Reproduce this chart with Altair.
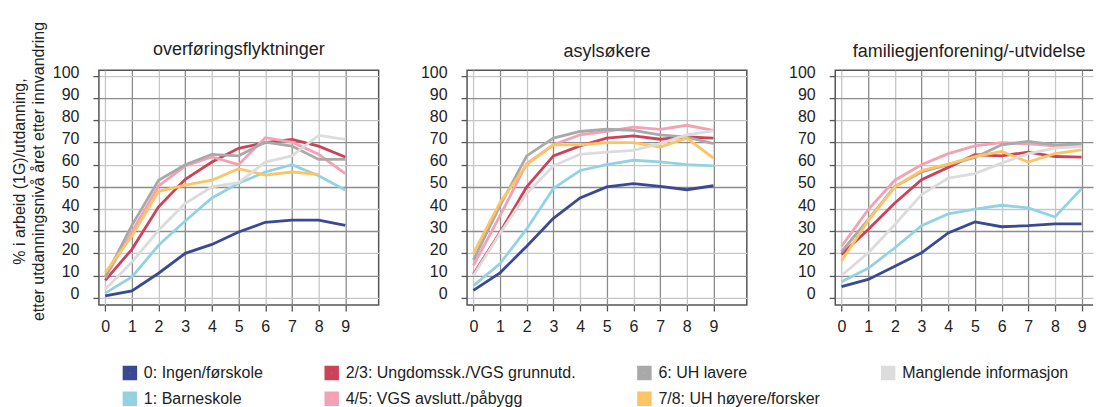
import altair as alt
import pandas as pd

FONT = "Liberation Sans"
TEXT = "#222222"

years = list(range(10))
categories = [
    "0: Ingen/førskole",
    "1: Barneskole",
    "2/3: Ungdomssk./VGS grunnutd.",
    "4/5: VGS avslutt./påbygg",
    "6: UH lavere",
    "7/8: UH høyere/forsker",
    "Manglende informasjon",
]
colors = ["#3A4A92", "#93D3E1", "#CB4359", "#F3A1B4", "#A9A9A9", "#FCC463", "#DCDCDC"]
# legend is read row by row: 0, 2/3, 6, Manglende / 1, 4/5, 7/8
legend_order = [categories[i] for i in (0, 2, 4, 6, 1, 3, 5)]
legend_colors = [colors[i] for i in (0, 2, 4, 6, 1, 3, 5)]

panels = ["overføringsflyktninger", "asylsøkere", "familiegjenforening/-utvidelse"]

# overføringsflyktninger
ovf_0 = [0.8, 3, 11, 20, 24, 29.6, 34, 35, 35, 32.6]
ovf_1 = [2, 9.3, 23.6, 34.6, 45, 51.6, 56.7, 60, 55, 48.6]
ovf_23 = [7.8, 21.8, 41, 53.4, 61.2, 67.4, 70, 71.4, 68.4, 63.5]
ovf_45 = [9, 29.6, 50.4, 59.4, 63.5, 60, 72.2, 70.2, 64.7, 56]
ovf_6 = [9.3, 32.6, 53, 60, 64.7, 64, 70.2, 68.4, 62.4, 62.4]
ovf_78 = [11.3, 27.8, 48, 50.8, 53, 58.2, 55.3, 56.7, 55.6, None]
ovf_m = [3.8, 16, 30.4, 42.5, 50, 51.9, 61.2, 64, 73.2, 71.4]

# asylsøkere
asy_0 = [3.3, 11.2, 23.2, 35.8, 45, 50, 51.5, 50.2, 48.7, 50.5]
asy_1 = [5.3, 15.4, 31, 49.3, 57.4, 60, 62, 61.3, 60, 59.5]
asy_23 = [10.5, 29.5, 50, 64, 68.5, 72, 73, 71.5, 72.5, 72]
asy_45 = [14.5, 37, 60.5, 69, 73.5, 75, 77, 76, 77.8, 75.5]
asy_6 = [17, 41.5, 64, 72, 75, 76, 75.5, 73.5, 72.5, 69.5]
asy_78 = [20, 43, 60, 69, 69, 70, 70, 68, 72, 63]
asy_m = [10, 29, 47, 59.5, 64.7, 65.7, 66.5, 69.5, 73.5, 75.3]

# familiegjenforening/-utvidelse
fam_0 = [5, 8.2, 14.2, 20.2, 29.2, 34.2, 32, 32.5, 33.3, 33.3]
fam_1 = [7.2, 13.2, 22.5, 32.5, 37.8, 40, 41.7, 40.5, 36.4, 49.2]
fam_23 = [19.5, 30.7, 42.7, 53.2, 58.8, 64.5, 64, 65.7, 63.7, 63.4]
fam_45 = [23.2, 39.7, 53, 60, 65, 68.5, 70, 69.4, 68.5, 68.2]
fam_6 = [20.7, 35.2, 50.2, 56.7, 60, 63.3, 69, 70.5, 69, 69.4]
fam_78 = [16.5, 34.8, 50, 57.4, 60.3, 63.7, 66, 61.2, 65, 66.7]
fam_m = [10, 20.2, 33, 46.5, 54, 56, 60.7, 65, 67.5, 68.2]

series = {
    panels[0]: [ovf_0, ovf_1, ovf_23, ovf_45, ovf_6, ovf_78, ovf_m],
    panels[1]: [asy_0, asy_1, asy_23, asy_45, asy_6, asy_78, asy_m],
    panels[2]: [fam_0, fam_1, fam_23, fam_45, fam_6, fam_78, fam_m],
}

rows = []
for p, lists in series.items():
    for cat, vals in zip(categories, lists):
        for yr, v in zip(years, vals):
            if v is not None:
                rows.append({"panel": p, "category": cat, "year": yr, "value": v})
df = pd.DataFrame(rows)

y_title = ["% i arbeid (1G)/utdanning,", "etter utdanningsnivå året etter innvandring"]

GRID_DARK = "#8C8C8C"
GRID_LIGHT = "#C6C6C6"
FRAME = "#555555"
H = 235

color_enc = alt.Color(
    "category:N",
    scale=alt.Scale(domain=legend_order, range=legend_colors),
    legend=alt.Legend(
        title=None,
        orient="none",
        direction="horizontal",
        legendX=23,
        legendY=295,
        columns=4,
        symbolType="square",
        symbolSize=56,
        symbolStrokeWidth=7,
        labelFontSize=16,
        labelFont=FONT,
        labelColor=TEXT,
        labelLimit=400,
        columnPadding=50,
        rowPadding=-11,
        labelOffset=6,
    ),
)


def make_panel(name, first, clipped):
    d = df[df.panel == name]
    width = 258 if clipped else 280
    xdom = [-0.236, -0.236 + width / 26.7]
    x_axis = alt.Axis(
        values=years,
        grid=True,
        gridColor={"condition": {"test": "datum.value % 2 === 0", "value": GRID_LIGHT}, "value": GRID_DARK},
        gridWidth=1.3,
        tickSize=6,
        tickColor=FRAME,
        tickWidth=1.3,
        domain=False,
        labelFontSize=16,
        labelFont=FONT,
        labelColor=TEXT,
        labelPadding=8,
        labelAngle=0,
        title=None,
    )
    y_axis = alt.Axis(
        values=list(range(0, 101, 10)),
        grid=True,
        gridColor={"condition": {"test": "datum.value % 20 === 0", "value": GRID_LIGHT}, "value": GRID_DARK},
        gridWidth=1.3,
        tickSize=6,
        tickColor=FRAME,
        tickWidth=1.3,
        domain=False,
        labelFontSize=16,
        labelFont=FONT,
        labelColor=TEXT,
        labelPadding=14,
        labelOffset=-4,
        title=y_title if first else None,
        titleFontSize=16,
        titleFont=FONT,
        titleFontWeight="normal",
        titleColor=TEXT,
        titlePadding=6,
        titleLineHeight=19,
        titleY=101,
    )
    lines = alt.Chart(d).mark_line(strokeWidth=2.8).encode(
        x=alt.X("year:Q", scale=alt.Scale(domain=xdom, nice=False, zero=False), axis=x_axis),
        y=alt.Y("value:Q", scale=alt.Scale(domain=[-3.3, 102.7], nice=False, zero=False), axis=y_axis),
        color=color_enc,
    )
    title = alt.TitleParams(
        name,
        fontSize=18,
        font=FONT,
        fontWeight="normal",
        color=TEXT,
        offset=-38 if first else 3,
        anchor="middle",
        frame="group",
        dx=5 if clipped else 0,
    )
    if clipped:
        # frame drawn on top, bottom and left only (right side runs off the page)
        view = alt.ViewBackground(stroke=FRAME, strokeWidth=1.5,
                                  strokeDash=[width, H, width + H, 4])
    else:
        view = alt.ViewBackground(stroke=FRAME, strokeWidth=1.5)
    return lines.properties(width=width, height=H, title=title, view=view)


chart = alt.hconcat(
    make_panel(panels[0], True, False),
    make_panel(panels[1], False, False),
    make_panel(panels[2], False, True),
    spacing=39.5,
).properties(
    padding={"left": 2, "top": 12, "right": 0, "bottom": 0},
    background="white",
)

chart.save("out.html", embed_options={"renderer": "svg", "actions": False})
